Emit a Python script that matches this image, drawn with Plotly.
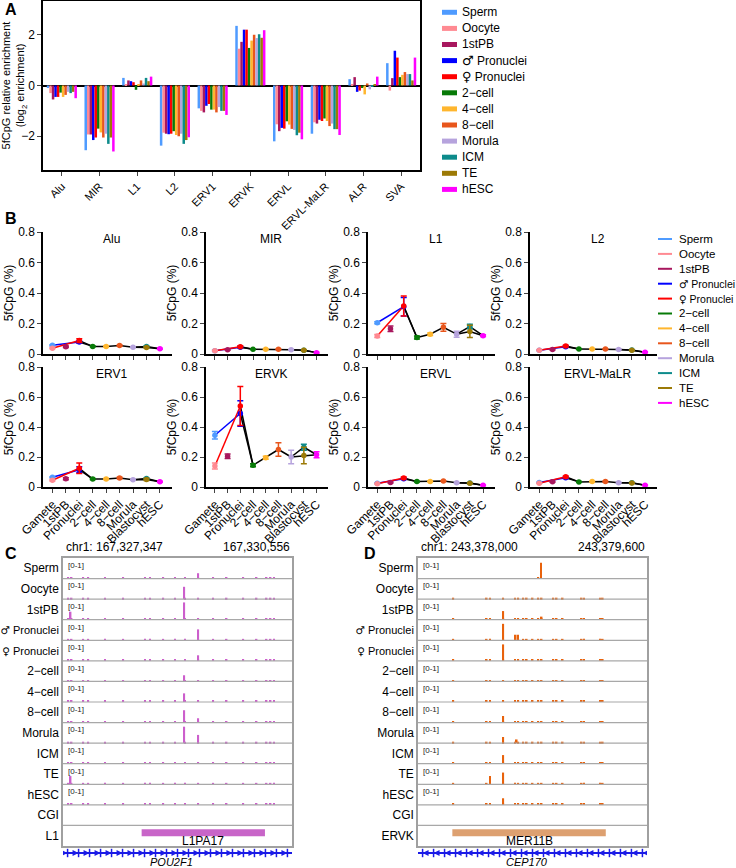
import plotly.graph_objects as go
import numpy as np

W, H = 736, 868
def fx(p): return p / W
def fy(p): return 1 - p / H

FONT = "Liberation Sans, Arial, DejaVu Sans, sans-serif"

# ---------------- shared series ----------------
series_names = ["Sperm", "Oocyte", "1stPB", "♂ Pronuclei", "♀ Pronuclei", "2−cell",
                "4−cell", "8−cell", "Morula", "ICM", "TE", "hESC"]
series_colors = ["#4f9bff", "#ff8a92", "#a8175e", "#0000ff", "#ff0000", "#077a07",
                 "#ffb62e", "#e8561c", "#b6a3dd", "#0d8b8b", "#9c7a06", "#ff00ff"]

def rich(name, size=13, text_size=None):
    has_sym = any(s in name for s in ["♂", "♀"])
    for s in ["♂", "♀"]:
        name = name.replace(s, f'<span style="font-family:DejaVu Sans;font-size:{size}px">{s}</span>')
    if has_sym and text_size:
        name = f'<span style="font-size:{text_size}px">{name}</span>'
    return name

# ---------------- Panel A data ----------------
repeat_classes = ["Alu", "MIR", "L1", "L2", "ERV1", "ERVK", "ERVL", "ERVL-MaLR", "ALR", "SVA"]
a_sperm   = [-0.10, -2.55, 0.30, -2.37, -0.90, 2.35, -2.20, -1.90, 0.25, 0.88]
a_oocyte  = [-0.30, -1.93, 0.04, -1.86, -1.00, 1.45, -1.53, -1.45, 0.02, -0.20]
a_1stpb   = [-0.55, -1.93, 0.20, -1.90, -1.06, 1.72, -1.80, -1.50, 0.33, 0.29]
a_male    = [-0.45, -2.15, 0.17, -1.92, -0.80, 2.20, -1.67, -1.35, -0.25, 1.37]
a_female  = [-0.45, -2.05, 0.13, -1.90, -0.73, 2.20, -1.70, -1.40, -0.20, 1.10]
a_2cell   = [-0.28, -1.70, -0.17, -1.80, -0.95, 1.48, -1.41, -1.30, -0.10, 0.33]
a_4cell   = [-0.45, -1.85, 0.03, -1.95, -0.95, 1.77, -1.54, -1.40, -0.35, 0.42]
a_8cell   = [-0.37, -2.05, 0.20, -2.00, -1.06, 2.00, -1.71, -1.60, 0.08, 0.53]
a_morula  = [-0.25, -1.90, 0.08, -1.90, -0.85, 1.87, -1.75, -1.50, -0.15, 0.45]
a_icm     = [-0.30, -2.30, 0.30, -2.30, -1.00, 2.02, -1.96, -1.72, -0.05, 0.45]
a_te      = [-0.25, -2.05, 0.17, -2.15, -1.00, 1.88, -1.86, -1.72, 0.02, 0.20]
a_hesc    = [-0.50, -2.60, 0.35, -2.04, -1.16, 2.18, -2.12, -1.95, 0.35, 1.10]
a_values = [a_sperm, a_oocyte, a_1stpb, a_male, a_female, a_2cell,
            a_4cell, a_8cell, a_morula, a_icm, a_te, a_hesc]

# ---------------- Panel B data ----------------
stage_labels = ["Gamete", "1stPB", "Pronuclei", "2−cell", "4−cell", "8−cell",
                "Morula", "Blastocyst", "hESC"]
series_stage = [0, 0, 1, 2, 2, 3, 4, 5, 6, 7, 7, 8]
b_repeats = ["Alu", "MIR", "L1", "L2", "ERV1", "ERVK", "ERVL", "ERVL-MaLR"]
b_alu      = [0.057, 0.038, 0.048, 0.078, 0.088, 0.050, 0.050, 0.055, 0.045, 0.050, 0.043, 0.034]
b_alu_err  = [0.004, 0.004, 0.005, 0.008, 0.012, 0.003, 0.003, 0.004, 0.003, 0.004, 0.004, 0.003]
b_mir      = [0.022, 0.022, 0.028, 0.045, 0.048, 0.031, 0.031, 0.031, 0.028, 0.025, 0.024, 0.009]
b_mir_err  = [0.002, 0.002, 0.003, 0.005, 0.006, 0.002, 0.002, 0.002, 0.002, 0.002, 0.002, 0.002]
b_l1       = [0.205, 0.118, 0.165, 0.310, 0.315, 0.108, 0.130, 0.175, 0.130, 0.180, 0.148, 0.120]
b_l1_err   = [0.006, 0.010, 0.018, 0.060, 0.065, 0.010, 0.008, 0.025, 0.020, 0.015, 0.040, 0.006]
b_l2       = [0.025, 0.025, 0.030, 0.048, 0.052, 0.033, 0.033, 0.033, 0.030, 0.026, 0.025, 0.012]
b_l2_err   = [0.002, 0.002, 0.003, 0.005, 0.006, 0.002, 0.002, 0.002, 0.002, 0.002, 0.002, 0.002]
b_erv1     = [0.065, 0.045, 0.055, 0.115, 0.125, 0.053, 0.053, 0.060, 0.048, 0.057, 0.050, 0.035]
b_erv1_err = [0.004, 0.005, 0.006, 0.020, 0.035, 0.003, 0.003, 0.005, 0.003, 0.005, 0.006, 0.003]
b_ervk     = [0.345, 0.140, 0.205, 0.490, 0.540, 0.145, 0.195, 0.250, 0.200, 0.265, 0.210, 0.215]
b_ervk_err = [0.025, 0.020, 0.015, 0.085, 0.130, 0.010, 0.010, 0.045, 0.045, 0.020, 0.055, 0.020]
b_ervl     = [0.025, 0.022, 0.030, 0.055, 0.060, 0.036, 0.037, 0.040, 0.028, 0.026, 0.025, 0.012]
b_ervl_err = [0.002, 0.002, 0.003, 0.005, 0.006, 0.002, 0.002, 0.002, 0.002, 0.002, 0.002, 0.002]
b_malr     = [0.030, 0.025, 0.035, 0.062, 0.068, 0.034, 0.036, 0.036, 0.029, 0.028, 0.027, 0.012]
b_malr_err = [0.002, 0.002, 0.003, 0.005, 0.006, 0.002, 0.002, 0.002, 0.002, 0.002, 0.002, 0.002]
b_values = [b_alu, b_mir, b_l1, b_l2, b_erv1, b_ervk, b_ervl, b_malr]
b_errors = [b_alu_err, b_mir_err, b_l1_err, b_l2_err, b_erv1_err, b_ervk_err, b_ervl_err, b_malr_err]

# ---------------- Panel C / D data ----------------
track_labels = ["Sperm", "Oocyte", "1stPB", "♂ Pronuclei", "♀ Pronuclei", "2−cell", "4−cell",
                "8−cell", "Morula", "ICM", "TE", "hESC", "CGI"]
c_start, c_end = 167327347, 167330556
c_sites = [167327422, 167327468, 167327632, 167327702, 167327935, 167328192, 167328496,
           167328566, 167328753, 167328916, 167329056, 167329243, 167329453, 167329640,
           167329874, 167330060, 167330200, 167330256, 167330303]
c_bg = [0.07, 0.07, 0.07, 0.07, 0.07, 0.07, 0.07, 0.07, 0.07, 0.07, 0.07, 0.07]
c_peak_track = [0, 1, 2, 2, 3, 4, 5, 6, 7, 7, 8, 8, 10]
c_peak_pos = [167329243, 167329047, 167329047, 167327454, 167329243, 167329243, 167329047,
              167329047, 167329047, 167329243, 167329047, 167329243, 167327454]
c_peak_val = [0.26, 0.60, 0.84, 0.39, 0.53, 0.27, 0.30, 0.42, 0.60, 0.21, 0.80, 0.40, 0.40]
c_feature_class = "L1"
c_feature_name = "L1PA17"
c_feature_start, c_feature_end = 167328449, 167330177
c_gene = "POU2F1"

d_start, d_end = 243378000, 243379600
d_sites = [243378247, 243378480, 243378503, 243378596, 243378678, 243378701, 243378736,
           243378760, 243378801, 243378841, 243378864, 243378946, 243378969, 243379011,
           243379144, 243379160, 243379272, 243379291]
d_bg = [0.0, 0.07, 0.07, 0.07, 0.07, 0.07, 0.07, 0.07, 0.07, 0.07, 0.07, 0.07]
d_peak_track = [0, 0, 2, 2, 3, 3, 3, 4, 7, 8, 8, 9, 10, 10, 11]
d_peak_pos = [243378860, 243378841, 243378596, 243378864, 243378596, 243378683, 243378700,
              243378596, 243378596, 243378596, 243378690, 243378596, 243378596, 243378503,
              243378596]
d_peak_val = [0.77, 0.05, 0.42, 0.15, 0.80, 0.27, 0.27, 0.80, 0.32, 0.30, 0.18, 0.42,
              0.57, 0.40, 0.32]
d_feature_class = "ERVK"
d_feature_name = "MER11B"
d_feature_start, d_feature_end = 243378240, 243379312
d_gene = "CEP170"

fig = go.Figure()
annotations = []
shapes = []

# ================= Panel A =================
for i, name in enumerate(series_names):
    fig.add_trace(go.Bar(x=repeat_classes, y=a_values[i], name=name,
                         marker=dict(color=series_colors[i], line=dict(width=0)),
                         xaxis="x", yaxis="y", showlegend=False))

layout = dict(
    width=W, height=H, margin=dict(l=0, r=0, t=0, b=0, autoexpand=False),
    paper_bgcolor="white", plot_bgcolor="white",
    font=dict(family=FONT, size=12, color="black"),
    barmode="group", bargap=0.2, bargroupgap=0, showlegend=False,
)
layout["xaxis"] = dict(domain=[fx(43), fx(420)], anchor="y", showline=True, mirror=True,
                       linecolor="black", linewidth=1.5, ticks="outside", ticklen=4,
                       tickwidth=1.2, tickangle=-45, tickfont=dict(size=11),
                       showgrid=False, zeroline=False, automargin=False)
layout["yaxis"] = dict(domain=[fy(170), fy(1)], anchor="x", range=[-3.33, 3.33],
                       tickvals=[-2, 0, 2], showline=True, mirror=True, linecolor="black",
                       linewidth=1.5, ticks="outside", ticklen=4, tickwidth=1.2,
                       showgrid=False, zeroline=True, zerolinecolor="black", zerolinewidth=1.5,
                       tickfont=dict(size=12), automargin=False,
                       title=dict(text="5fCpG relative enrichment<br>(log<sub>2</sub> enrichment)",
                                  font=dict(size=11), standoff=4))

# legend A (manual)
for i, name in enumerate(series_names):
    yc = 12.3 + 16.1 * i
    shapes.append(dict(type="rect", xref="paper", yref="paper", x0=fx(442), x1=fx(457),
                       y0=fy(yc + 2.5), y1=fy(yc - 2.5), fillcolor=series_colors[i],
                       line=dict(width=0)))
    annotations.append(dict(text=rich(name), xref="paper", yref="paper", x=fx(460), y=fy(yc),
                            xanchor="left", yanchor="middle", showarrow=False,
                            font=dict(size=12)))

# ================= Panel B =================
cols = [(43, 172), (206, 328), (368, 495), (530, 657)]
rows = [(232, 354), (367, 487)]
blue_path = [0, 3]
red_path = [1, 4]
black_paths = [[3, 5], [4, 5], [5, 6, 7, 8], [8, 9, 11], [8, 10, 11]]
for k, rep in enumerate(b_repeats):
    r, c = divmod(k, 4)
    ax = k + 2
    xa, ya = f"x{ax}", f"y{ax}"
    vals, errs = b_values[k], b_errors[k]
    for path, col in [(blue_path, "#0000ff"), (red_path, "#ff0000")] + [(p, "black") for p in black_paths]:
        fig.add_trace(go.Scatter(x=[series_stage[j] for j in path], y=[vals[j] for j in path],
                                 mode="lines", line=dict(color=col, width=1.5),
                                 xaxis=xa, yaxis=ya, showlegend=False, hoverinfo="skip",
                                 cliponaxis=False))
    for j in range(12):
        fig.add_trace(go.Scatter(x=[series_stage[j]], y=[vals[j]], mode="markers",
                                 marker=dict(color=series_colors[j], size=5.5),
                                 error_y=dict(type="data", array=[errs[j]], color=series_colors[j],
                                              thickness=1.5, width=3),
                                 name=series_names[j], xaxis=xa, yaxis=ya, showlegend=False,
                                 cliponaxis=False))
    layout[f"xaxis{ax}"] = dict(domain=[fx(cols[c][0]), fx(cols[c][1])], anchor=ya,
                                range=[-0.7, 8.9], tickvals=list(range(9)),
                                ticktext=stage_labels, showticklabels=(r == 1),
                                tickangle=-45, ticks="outside", ticklen=4, tickwidth=1.2,
                                showline=True, linecolor="black", linewidth=1.5,
                                showgrid=False, zeroline=False, tickfont=dict(size=12),
                                automargin=False)
    layout[f"yaxis{ax}"] = dict(domain=[fy(rows[r][1]), fy(rows[r][0])], anchor=xa,
                                range=[0, 0.8], tickvals=[0, 0.2, 0.4, 0.6, 0.8],
                                ticktext=["0", "0.2", "0.4", "0.6", "0.8"],
                                ticks="outside", ticklen=4, tickwidth=1.2, showline=True,
                                linecolor="black", linewidth=1.5, showgrid=False,
                                zeroline=False, tickfont=dict(size=12), automargin=False,
                                title=dict(text="5fCpG (%)", font=dict(size=12), standoff=2))
    annotations.append(dict(text=rep, xref="paper", yref="paper",
                            x=fx((cols[c][0] + cols[c][1]) / 2 + 4), y=fy(rows[r][0] + 7),
                            xanchor="center", yanchor="middle", showarrow=False,
                            font=dict(size=12)))

# legend B (manual)
for i, name in enumerate(series_names):
    yc = 239 + 14.9 * i
    shapes.append(dict(type="line", xref="paper", yref="paper", x0=fx(658), x1=fx(672),
                       y0=fy(yc), y1=fy(yc), line=dict(color=series_colors[i], width=2)))
    annotations.append(dict(text=rich(name, 10.5, 10.5), xref="paper", yref="paper", x=fx(677),
                            y=fy(yc), xanchor="left", yanchor="middle", showarrow=False,
                            font=dict(size=11.5)))

# ================= Panels C & D =================
def genome_panel(ax_tr, ax_gene, left, right, start, end, sites, bg, pk_track, pk_pos, pk_val,
                 sig_color, bar_w, feat_class, feat_name, fs, fe, feat_color, gene, strand,
                 coord_left, coord_right):
    xs, ys, bases = [], [], []
    for t in range(12):
        if bg[t] > 0:
            for s in sites:
                xs.append(s); ys.append(bg[t]); bases.append(13 - t)
    for t, p, v in zip(pk_track, pk_pos, pk_val):
        xs.append(p); ys.append(v); bases.append(13 - t)
    xa, ya = f"x{ax_tr}", f"y{ax_tr}"
    fig.add_trace(go.Bar(x=xs, y=ys, base=bases, width=bar_w, offset=-bar_w / 2,
                         marker=dict(color=sig_color, line=dict(width=0)),
                         xaxis=xa, yaxis=ya, showlegend=False, offsetgroup=f"g{ax_tr}"))
    fig.add_trace(go.Bar(x=[(fs + fe) / 2], y=[0.34], base=[0.48], width=[fe - fs],
                         offset=-(fe - fs) / 2,
                         marker=dict(color=feat_color, line=dict(width=0)),
                         xaxis=xa, yaxis=ya, showlegend=False, offsetgroup=f"g{ax_tr}"))
    annotations.append(dict(text=feat_name, xref=xa, yref=ya, x=(fs + fe) / 2, y=0.25,
                            xanchor="center", yanchor="middle", showarrow=False,
                            font=dict(size=12)))
    labels = [rich(l, 10.5, 11) for l in track_labels] + [feat_class]
    layout[f"xaxis{ax_tr}"] = dict(domain=[fx(left), fx(right)], anchor=ya, range=[start, end],
                                   showticklabels=False, ticks="", showline=True, mirror=True,
                                   linecolor="#a0a0a0", linewidth=1.5, showgrid=False,
                                   zeroline=False, automargin=False)
    layout[f"yaxis{ax_tr}"] = dict(domain=[fy(846), fy(558)], anchor=xa, range=[0, 14],
                                   tickvals=[13.5 - i for i in range(14)], ticktext=labels,
                                   ticks="", showline=True, mirror=True, linecolor="#a0a0a0",
                                   linewidth=1.5, showgrid=False, zeroline=False,
                                   tickfont=dict(size=12), automargin=False)
    for kk in range(1, 14):
        shapes.append(dict(type="line", xref=f"{xa} domain", yref=ya, x0=0, x1=1, y0=kk, y1=kk,
                           line=dict(color="#a8a8a8", width=1.2), layer="above"))
    for t in range(12):
        annotations.append(dict(text="[0-1]", xref=f"{xa} domain", yref=ya, x=0.012,
                                y=14 - t - 0.04, xanchor="left", yanchor="top",
                                showarrow=False, font=dict(size=8, color="#222")))
    xg, yg = f"x{ax_gene}", f"y{ax_gene}"
    arrows = np.linspace(start + (end - start) * 0.02, end - (end - start) * 0.02, 21)
    fig.add_trace(go.Scatter(x=[start, end], y=[0, 0], mode="lines",
                             line=dict(color="#1a1ae6", width=2), xaxis=xg, yaxis=yg,
                             showlegend=False, hoverinfo="skip"))
    fig.add_trace(go.Scatter(x=arrows, y=[0] * len(arrows), mode="markers",
                             marker=dict(symbol="arrow-right" if strand > 0 else "arrow-left",
                                         size=6, color="#1a1ae6"),
                             xaxis=xg, yaxis=yg, showlegend=False, hoverinfo="skip"))
    fig.add_trace(go.Scatter(x=arrows, y=[0] * len(arrows), mode="markers",
                             marker=dict(symbol="line-ns", size=6,
                                         line=dict(color="#1a1ae6", width=1.5)),
                             xaxis=xg, yaxis=yg, showlegend=False, hoverinfo="skip"))
    layout[f"xaxis{ax_gene}"] = dict(domain=[fx(left), fx(right)], anchor=yg, range=[start, end],
                                     visible=False, automargin=False)
    layout[f"yaxis{ax_gene}"] = dict(domain=[fy(858), fy(848)], anchor=xg, range=[-1, 1],
                                     visible=False, automargin=False)
    annotations.append(dict(text=f"<i>{gene}</i>", xref="paper", yref="paper",
                            x=fx((left + right) / 2 - 6), y=fy(861.5), xanchor="center",
                            yanchor="middle", showarrow=False, font=dict(size=11)))
    annotations.append(dict(text=coord_left, xref="paper", yref="paper", x=fx(left + 1),
                            y=fy(547), xanchor="left", yanchor="middle", showarrow=False,
                            font=dict(size=12)))
    annotations.append(dict(text=coord_right, xref="paper", yref="paper", x=fx(right),
                            y=fy(547), xanchor="right", yanchor="middle", showarrow=False,
                            font=dict(size=12)))

genome_panel(10, 11, 63, 292, c_start, c_end, c_sites, c_bg, c_peak_track, c_peak_pos,
             c_peak_val, "#cc5fcc", 22, c_feature_class, c_feature_name, c_feature_start,
             c_feature_end, "#c865c8", c_gene, +1, "chr1: 167,327,347", "167,330,556")
genome_panel(12, 13, 418, 647, d_start, d_end, d_sites, d_bg, d_peak_track, d_peak_pos,
             d_peak_val, "#e8620c", 11, d_feature_class, d_feature_name, d_feature_start,
             d_feature_end, "#dda070", d_gene, -1, "chr1: 243,378,000", "243,379,600")

for letter, x, y in [("A", 3, 9), ("B", 3, 219), ("C", 3, 553), ("D", 362, 553)]:
    annotations.append(dict(text=f"<b>{letter}</b>", xref="paper", yref="paper", x=fx(x),
                            y=fy(y), xanchor="left", yanchor="middle", showarrow=False,
                            font=dict(size=16)))

layout["annotations"] = annotations
layout["shapes"] = shapes
fig.update_layout(**layout)
fig.write_html("out.html", config={"displayModeBar": False},
               post_script="document.body.style.margin='0px';document.body.style.padding='0px';")
